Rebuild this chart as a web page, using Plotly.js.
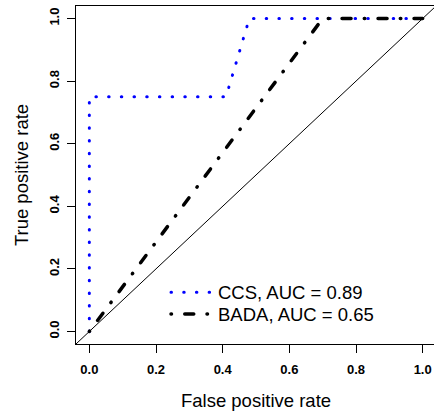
<!DOCTYPE html>
<html>
<head>
<meta charset="utf-8">
<script src="https://cdn.plot.ly/plotly-3.0.1.min.js"></script>
<style>
html,body{margin:0;padding:0;overflow:hidden;background:#fff;}
#chart{width:436px;height:411px;}
path.js-line{stroke-linecap:round !important;}
</style>
</head>
<body>
<div id="chart"></div>
<script>
// ROC curve data
const ccsFPR  = [0, 0, 0.41, 0.48, 1.0];
const ccsTPR  = [0, 0.75, 0.75, 1.0, 1.0];
const badaFPR = [0, 0.70, 1.0];
const badaTPR = [0, 1.0, 1.0];
const diagX = [-0.04, 1.04];
const diagY = [-0.04, 1.04];
const seriesNames = ["CCS, AUC = 0.89", "BADA, AUC = 0.65"];
const tickVals = [0, 0.2, 0.4, 0.6, 0.8, 1.0];
const tickText = ["0.0", "0.2", "0.4", "0.6", "0.8", "1.0"];

const fontFam = "Liberation Sans, Arial, sans-serif";

const traces = [
  {x: diagX, y: diagY, mode: "lines", line: {color: "black", width: 1}, showlegend: false, hoverinfo: "skip"},
  {x: ccsFPR, y: ccsTPR, mode: "lines", name: seriesNames[0], legend: "legend",
   line: {color: "#0000FF", width: 3, dash: "0.5px,12.2px"}},
  {x: badaFPR, y: badaTPR, mode: "lines", name: seriesNames[1], legend: "legend2",
   line: {color: "black", width: 3.5, dash: "0.5px,13.25px,9px,13.25px"}}
];

const axisCommon = {
  showgrid: false, zeroline: false, showline: true, mirror: true,
  linecolor: "black", linewidth: 1,
  ticks: "outside", ticklen: 8, tickwidth: 1, tickcolor: "black",
  tickvals: tickVals, ticktext: tickText.map(t => "<b>" + t + "</b>"),
  tickfont: {family: fontFam, size: 13, color: "black"}
};

const legendCommon = {
  xanchor: "left", yanchor: "middle", itemwidth: 42,
  bgcolor: "rgba(0,0,0,0)", borderwidth: 0,
  font: {family: fontFam, size: 18.5, color: "black"}
};

const layout = {
  width: 436, height: 411,
  margin: {l: 76, r: 0, t: 6, b: 67},
  paper_bgcolor: "white", plot_bgcolor: "white",
  showlegend: true,
  legend: Object.assign({}, legendCommon, {x: 0.25, y: 0.152}),
  legend2: Object.assign({}, legendCommon, {x: 0.25, y: 0.087}),
  xaxis: Object.assign({}, axisCommon, {
    range: [-0.04, 1.04], ticklabelstandoff: 5,
    title: {text: "False positive rate", font: {family: fontFam, size: 18.5, color: "black"}, standoff: 18}
  }),
  yaxis: Object.assign({}, axisCommon, {
    range: [-0.04, 1.04], tickangle: -90, ticklabelstandoff: 3,
    title: {text: "True positive rate", font: {family: fontFam, size: 18.5, color: "black"}, standoff: 13}
  })
};

Plotly.newPlot("chart", traces, layout, {displayModeBar: false, staticPlot: true});
</script>
</body>
</html>
